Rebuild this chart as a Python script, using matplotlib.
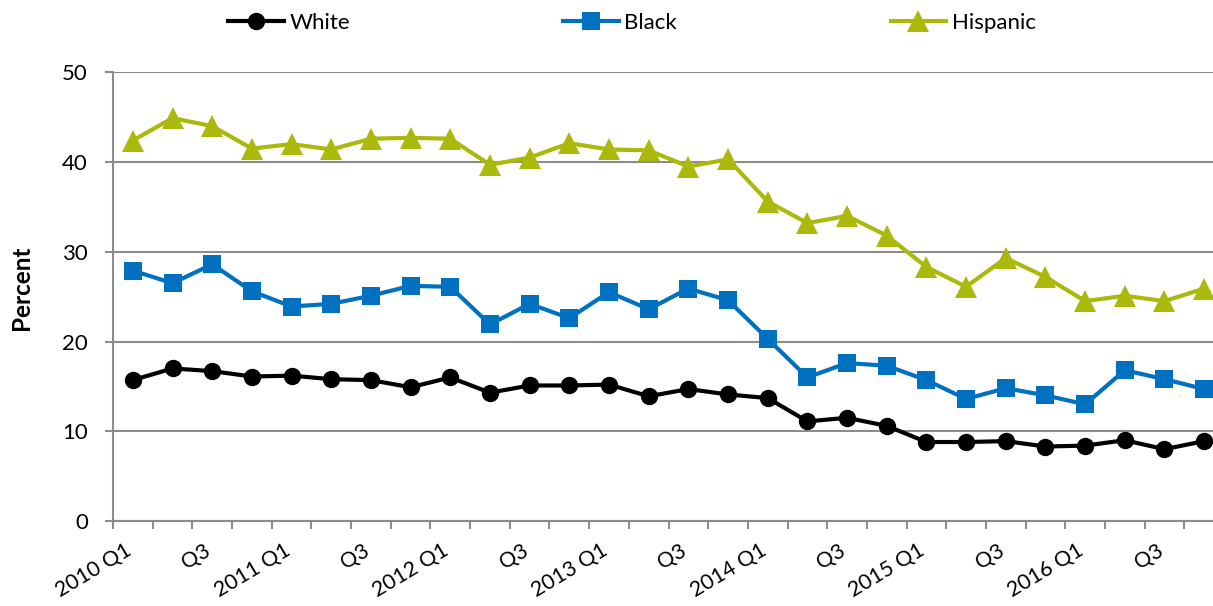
import matplotlib
matplotlib.use('Agg')
import matplotlib.pyplot as plt
import matplotlib.transforms as mtransforms
import numpy as np

quarters = ["2010 Q1", "2010 Q2", "2010 Q3", "2010 Q4",
            "2011 Q1", "2011 Q2", "2011 Q3", "2011 Q4",
            "2012 Q1", "2012 Q2", "2012 Q3", "2012 Q4",
            "2013 Q1", "2013 Q2", "2013 Q3", "2013 Q4",
            "2014 Q1", "2014 Q2", "2014 Q3", "2014 Q4",
            "2015 Q1", "2015 Q2", "2015 Q3", "2015 Q4",
            "2016 Q1", "2016 Q2", "2016 Q3", "2016 Q4"]
tick_labels = ["2010 Q1", "Q3", "2011 Q1", "Q3", "2012 Q1", "Q3", "2013 Q1", "Q3",
               "2014 Q1", "Q3", "2015 Q1", "Q3", "2016 Q1", "Q3"]

white = [15.7, 17.0, 16.7, 16.1, 16.2, 15.8, 15.7, 14.9, 16.0, 14.3, 15.1, 15.1, 15.2, 13.9,
         14.7, 14.1, 13.7, 11.1, 11.5, 10.6, 8.8, 8.8, 8.9, 8.3, 8.4, 9.0, 8.0, 8.9]
black = [27.9, 26.5, 28.6, 25.6, 23.9, 24.2, 25.1, 26.2, 26.1, 21.9, 24.2, 22.6, 25.5, 23.6,
         25.9, 24.6, 20.3, 16.0, 17.6, 17.3, 15.7, 13.6, 14.8, 14.0, 13.0, 16.8, 15.8, 14.7]
hispanic = [42.4, 44.9, 44.0, 41.5, 42.0, 41.4, 42.6, 42.7, 42.6, 39.7, 40.5, 42.1, 41.4, 41.3,
            39.5, 40.3, 35.6, 33.2, 34.0, 31.8, 28.3, 26.1, 29.3, 27.2, 24.5, 25.1, 24.5, 25.9]

plt.rcParams['font.family'] = ['Lato', 'DejaVu Sans']

W, H = 1213, 606
fig = plt.figure(figsize=(W / 100, H / 100), dpi=100)
ax = fig.add_axes([113 / W, (H - 521) / H, 1111 / W, (521 - 72.3) / H])

x = np.arange(len(quarters))
grid_c = '#8c8c8c'

ax.plot(x, white, color='black', lw=3, marker='o', ms=12.5, mec='black', mew=0, label='White', zorder=3)
ax.plot(x, black, color='#0070C0', lw=3, marker='s', ms=13, mec='#0070C0', mew=0, label='Black', zorder=3)
ax.plot(x, hispanic, color='#AAB90B', lw=3, marker='^', ms=16.5, mec='#AAB90B', mew=0, label='Hispanic', zorder=3)

ax.set_xlim(-0.5, len(quarters) - 0.5)
ax.set_ylim(0, 50)
ax.set_yticks([0, 10, 20, 30, 40, 50])
ax.yaxis.grid(True, color=grid_c, lw=1.5)
ax.set_axisbelow(True)

for s in ['top', 'right']:
    ax.spines[s].set_visible(False)
for s in ['left', 'bottom']:
    ax.spines[s].set_color(grid_c)
    ax.spines[s].set_linewidth(1.5)

ax.tick_params(axis='y', length=6, width=1.5, color=grid_c, pad=12, labelsize=16, labelcolor='black')

ax.set_xticks(x[::2])
ax.set_xticklabels(tick_labels, rotation=31, ha='right', va='top')
ax.set_xticks(np.arange(len(quarters) + 1) - 0.5, minor=True)
ax.tick_params(axis='x', which='major', length=0, pad=14, labelsize=15.5)
ax.tick_params(axis='x', which='minor', length=5.5, width=1.5, color=grid_c)
off = mtransforms.ScaledTranslation(2 / 100, 0, fig.dpi_scale_trans)
for lab in ax.get_xticklabels():
    lab.set_transform(lab.get_transform() + off)

fig.text(21.5 / W, 1 - 288 / H, 'Percent', rotation=90, ha='center', va='center',
         fontsize=17.5, fontweight='bold')

fig.legend(loc='center', bbox_to_anchor=(632 / W, 1 - 23 / H), ncol=3, frameon=False,
           fontsize=16, handlelength=2.5, handletextpad=0.25, columnspacing=9.6,
           borderaxespad=0, borderpad=0)

fig.savefig('out.png', dpi=100)
